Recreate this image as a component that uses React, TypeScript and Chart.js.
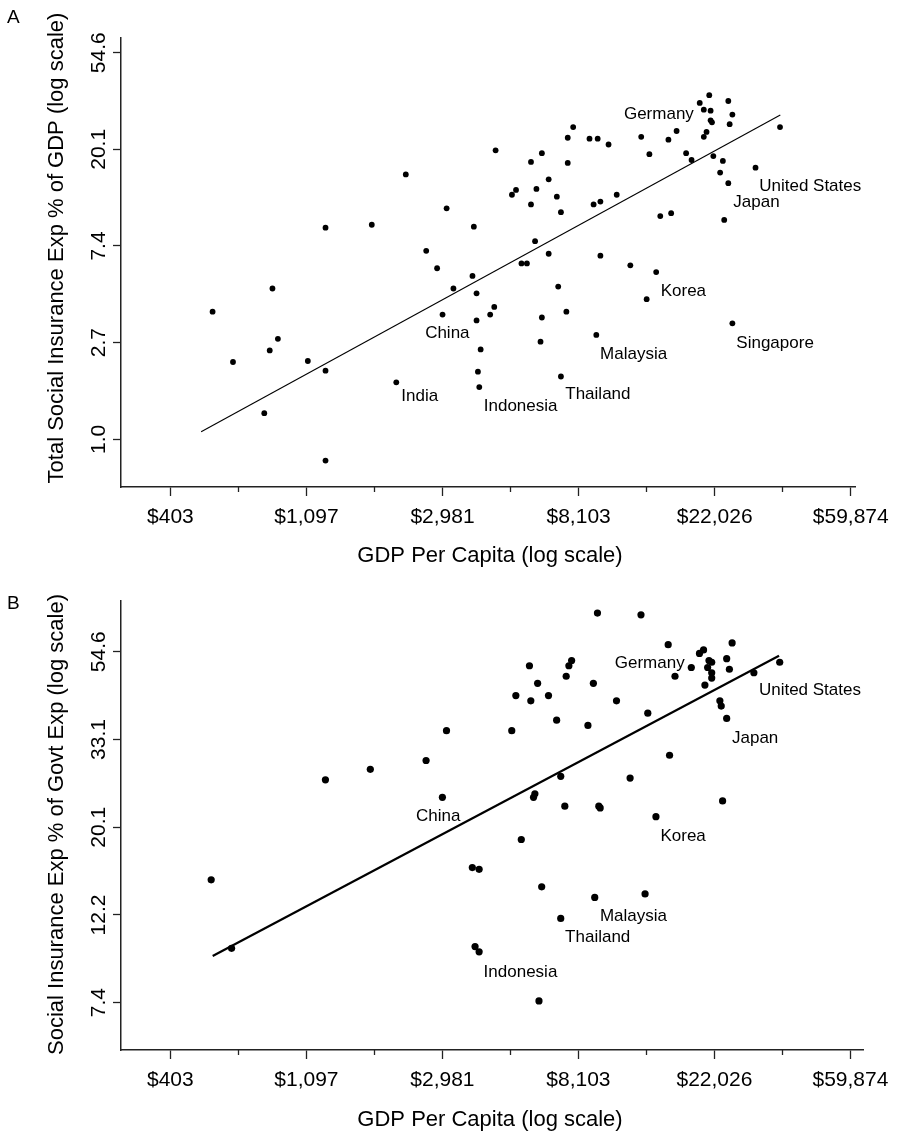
import React, { useEffect, useRef } from "react";
import { Chart, registerables } from "chart.js";

Chart.register(...registerables);

// Natural-log values: GDP per capita (x) against social insurance spending (y).
// Panel A: total social insurance expenditure, % of GDP.
const logGdpA = [
  6.31, 6.46, 6.69, 6.73, 6.75, 6.79, 7.01, 7.14, 7.14, 7.14,
  7.48, 7.66, 7.73, 7.88, 7.96, 8.0, 8.03, 8.08, 8.23, 8.22,
  8.25, 8.25, 8.26, 8.27, 8.28, 8.35, 8.38, 8.39, 8.51, 8.54,
  8.58, 8.62, 8.65, 8.65, 8.68, 8.69, 8.73, 8.72, 8.73, 8.78,
  8.78, 8.85, 8.84, 8.87, 8.87, 8.91, 8.92, 8.92, 8.96, 9.08,
  9.11, 9.13, 9.14, 9.16, 9.16, 9.22, 9.28, 9.38, 9.46, 9.5,
  9.52, 9.57, 9.6, 9.66, 9.68, 9.72, 9.79, 9.83, 9.89, 9.92,
  9.92, 9.94, 9.96, 9.97, 9.97, 9.98, 9.99, 10.06, 10.04, 10.07,
  10.1, 10.1, 10.11, 10.13, 10.13, 10.3, 10.48,
];
const logShareGdpA = [
  1.32, 0.8, 0.27, 0.92, 1.56, 1.04, 0.81, 2.19, 0.71, -0.22,
  2.22, 0.59, 2.74, 1.95, 1.77, 1.29, 2.39, 1.56, 2.2, 1.69,
  1.51, 1.23, 0.7, 0.54, 0.93, 1.29, 1.37, 2.99, 2.53, 2.58,
  1.82, 1.82, 2.87, 2.43, 2.05, 2.59, 1.26, 1.01, 2.96, 1.92,
  2.69, 1.58, 2.51, 0.65, 2.35, 1.32, 3.12, 2.86, 3.23, 3.11,
  2.43, 1.08, 3.11, 2.46, 1.9, 3.05, 2.53, 1.8, 3.13, 1.45,
  2.95, 1.73, 2.31, 3.1, 2.34, 3.19, 2.96, 2.89, 3.48, 3.13,
  3.41, 3.18, 3.56, 3.4, 3.3, 3.28, 2.93, 2.88, 2.76, 2.27,
  2.65, 3.5, 3.26, 3.36, 1.2, 2.81, 3.23,
];

// Panel B: social insurance expenditure, % of government expenditure.
const logGdpB = [
  6.3, 6.45, 7.14, 7.47, 7.88, 8.0, 8.03, 8.22, 8.27, 8.24,
  8.27, 8.51, 8.54, 8.58, 8.64, 8.65, 8.67, 8.68, 8.7, 8.73,
  8.71, 8.78, 8.84, 8.87, 8.87, 8.9, 8.91, 8.93, 8.95, 9.07,
  9.11, 9.12, 9.14, 9.15, 9.16, 9.28, 9.38, 9.46, 9.49, 9.51,
  9.57, 9.66, 9.67, 9.71, 9.83, 9.89, 9.92, 9.93, 9.95, 9.96,
  9.98, 9.98, 9.98, 10.04, 10.05, 10.09, 10.06, 10.09, 10.11, 10.13,
  10.29, 10.48,
];
const logShareGovB = [
  2.7, 2.31, 3.27, 3.33, 3.38, 3.17, 3.55, 2.77, 2.76, 2.32,
  2.29, 3.55, 3.75, 2.93, 3.92, 3.72, 3.17, 3.19, 3.82, 2.66,
  2.01, 3.75, 3.61, 3.29, 2.48, 3.12, 3.86, 3.92, 3.95, 3.58,
  3.82, 2.6, 4.22, 3.12, 3.11, 3.72, 3.28, 4.21, 2.62, 3.65,
  3.06, 4.04, 3.41, 3.86, 3.91, 3.99, 4.01, 3.81, 3.91, 3.95,
  3.94, 3.88, 3.85, 3.72, 3.69, 3.62, 3.15, 3.96, 3.9, 4.05,
  3.88, 3.94,
];

// Axis ticks (natural-log units; labels show exp(value)).
const gdpTicks = [6, 7, 8, 9, 10, 11];
const gdpMinorTicks = [6.5, 7.5, 8.5, 9.5, 10.5];
const shareGdpTicks = [0, 1, 2, 3, 4];
const shareGovTicks = [2, 2.5, 3, 3.5, 4];

// Fitted regression lines (log-log).
const fitA = { intercept: -4.715, slope: 0.77, from: 6.226, to: 10.482 };
const fitB = { intercept: -0.328, slope: 0.411, from: 6.311, to: 10.475 };

// Country annotations, anchored in data units (left edge / vertical middle of text).
const countryLabelsA = [
  { name: "Germany", x: 9.333, y: 3.366 },
  { name: "United States", x: 10.327, y: 2.621 },
  { name: "Japan", x: 10.137, y: 2.455 },
  { name: "Korea", x: 9.603, y: 1.534 },
  { name: "Singapore", x: 10.159, y: 0.996 },
  { name: "Malaysia", x: 9.158, y: 0.883 },
  { name: "Thailand", x: 8.902, y: 0.469 },
  { name: "Indonesia", x: 8.303, y: 0.345 },
  { name: "India", x: 7.697, y: 0.448 },
  { name: "China", x: 7.872, y: 1.1 },
];
const countryLabelsB = [
  { name: "Germany", x: 9.267, y: 3.936 },
  { name: "United States", x: 10.327, y: 3.782 },
  { name: "Japan", x: 10.129, y: 3.508 },
  { name: "Korea", x: 9.603, y: 2.95 },
  { name: "Malaysia", x: 9.158, y: 2.494 },
  { name: "Thailand", x: 8.902, y: 2.374 },
  { name: "Indonesia", x: 8.303, y: 2.175 },
  { name: "China", x: 7.806, y: 3.064 },
];

const FONT = "'Liberation Sans', Arial, Helvetica, sans-serif";
const AXIS_COLOR = "#222";

type Label = { name: string; x: number; y: number };

type PanelSpec = {
  letter: string;
  letterBaseline: number;
  width: number;
  height: number;
  top: number;
  padTop: number;
  padRight: number;
  xAxisHeight: number;
  xMin: number;
  xMax: number;
  yMin: number;
  yMax: number;
  xs: number[];
  ys: number[];
  yTicks: number[];
  fit: { intercept: number; slope: number; from: number; to: number };
  fitWidth: number;
  pointRadius: number;
  labels: Label[];
  yTitle: string;
  yTitleCenter: number;
  xTitleBaseline: number;
};

const panels: PanelSpec[] = [
  {
    letter: "A",
    letterBaseline: 23,
    width: 898,
    height: 580,
    top: 0,
    padTop: 38,
    padRight: 38,
    xAxisHeight: 93,
    xMin: 5.637,
    xMax: 11.035,
    yMin: -0.4935,
    yMax: 4.152,
    xs: logGdpA,
    ys: logShareGdpA,
    yTicks: shareGdpTicks,
    fit: fitA,
    fitWidth: 1.1,
    pointRadius: 2.9,
    labels: countryLabelsA,
    yTitle: "Total Social Insurance Exp % of GDP (log scale)",
    yTitleCenter: 248,
    xTitleBaseline: 562,
  },
  {
    letter: "B",
    letterBaseline: 43,
    width: 898,
    height: 567,
    top: 566,
    padTop: 34.7,
    padRight: 30,
    xAxisHeight: 83,
    xMin: 5.637,
    xMax: 11.094,
    yMin: 1.7305,
    yMax: 4.2906,
    xs: logGdpB,
    ys: logShareGovB,
    yTicks: shareGovTicks,
    fit: fitB,
    fitWidth: 2.2,
    pointRadius: 3.6,
    labels: countryLabelsB,
    yTitle: "Social Insurance Exp % of Govt Exp (log scale)",
    yTitleCenter: 258.5,
    xTitleBaseline: 560,
  },
];

function setTicks(values: number[]) {
  return (scale: any) => {
    scale.ticks = values.map((v) => ({ value: v }));
  };
}

function Panel({ spec }: { spec: PanelSpec }) {
  const ref = useRef<HTMLCanvasElement | null>(null);

  useEffect(() => {
    if (!ref.current) return;
    const points = spec.xs.map((x, i) => ({ x, y: spec.ys[i] }));
    const fitLine = [spec.fit.from, spec.fit.to].map((x) => ({
      x,
      y: spec.fit.intercept + spec.fit.slope * x,
    }));

    const textPlugin = {
      id: "panelText",
      afterDraw(chart: any) {
        const ctx = chart.ctx as CanvasRenderingContext2D;
        const xs = chart.scales.x;
        const ys = chart.scales.y;
        ctx.save();
        ctx.fillStyle = "#000";

        // Panel letter
        ctx.font = `19px ${FONT}`;
        ctx.textAlign = "left";
        ctx.textBaseline = "alphabetic";
        ctx.fillText(spec.letter, 7, spec.letterBaseline);

        // X axis title
        ctx.font = `22px ${FONT}`;
        ctx.textAlign = "center";
        ctx.fillText("GDP Per Capita (log scale)", 490, spec.xTitleBaseline);

        // Y axis title (rotated)
        ctx.save();
        ctx.translate(63, spec.yTitleCenter);
        ctx.rotate(-Math.PI / 2);
        ctx.textAlign = "center";
        ctx.textBaseline = "alphabetic";
        ctx.fillText(spec.yTitle, 0, 0);
        ctx.restore();

        // Country labels
        ctx.font = `17px ${FONT}`;
        ctx.textAlign = "left";
        ctx.textBaseline = "middle";
        for (const l of spec.labels) {
          ctx.fillText(l.name, xs.getPixelForValue(l.x), ys.getPixelForValue(l.y));
        }
        ctx.restore();
      },
    };

    const chart = new Chart(ref.current, {
      type: "scatter",
      data: {
        datasets: [
          {
            data: points,
            backgroundColor: "#000",
            borderWidth: 0,
            pointRadius: spec.pointRadius,
            pointHoverRadius: spec.pointRadius,
          },
          {
            data: fitLine,
            showLine: true,
            borderColor: "#000",
            borderWidth: spec.fitWidth,
            pointRadius: 0,
            pointHoverRadius: 0,
          },
        ],
      },
      options: {
        responsive: false,
        maintainAspectRatio: false,
        animation: false,
        events: [],
        layout: {
          autoPadding: false,
          padding: { left: 0, top: spec.padTop, right: spec.padRight, bottom: 0 },
        },
        plugins: {
          legend: { display: false },
          tooltip: { enabled: false },
        },
        scales: {
          x: {
            type: "linear",
            position: "bottom",
            weight: 1,
            min: spec.xMin,
            max: spec.xMax,
            afterBuildTicks: setTicks(gdpTicks),
            afterFit: (s: any) => {
              s.height = spec.xAxisHeight;
            },
            border: { display: true, color: AXIS_COLOR, width: 1.5 },
            grid: {
              drawOnChartArea: false,
              drawTicks: true,
              tickLength: 9,
              tickColor: AXIS_COLOR,
              tickWidth: 1.3,
            },
            ticks: {
              autoSkip: false,
              maxRotation: 0,
              minRotation: 0,
              padding: 9,
              color: "#000",
              font: { family: FONT, size: 21 },
              callback: (v: any) =>
                "$" + Math.round(Math.exp(Number(v))).toLocaleString("en-US"),
            },
          },
          xMinor: {
            type: "linear",
            position: "bottom",
            weight: 0,
            min: spec.xMin,
            max: spec.xMax,
            afterBuildTicks: setTicks(gdpMinorTicks),
            afterFit: (s: any) => {
              s.height = 0;
            },
            border: { display: false },
            grid: {
              drawOnChartArea: false,
              drawTicks: true,
              tickLength: 5,
              tickColor: AXIS_COLOR,
              tickWidth: 1.3,
            },
            ticks: { display: false },
          },
          y: {
            type: "linear",
            position: "left",
            min: spec.yMin,
            max: spec.yMax,
            afterBuildTicks: setTicks(spec.yTicks),
            afterFit: (s: any) => {
              s.width = 121;
            },
            border: { display: true, color: AXIS_COLOR, width: 1.5 },
            grid: {
              drawOnChartArea: false,
              drawTicks: true,
              tickLength: 8,
              tickColor: AXIS_COLOR,
              tickWidth: 1.3,
            },
            ticks: {
              autoSkip: false,
              minRotation: 90,
              maxRotation: 90,
              crossAlign: "center",
              padding: -6.5,
              color: "#000",
              font: { family: FONT, size: 21 },
              callback: (v: any) => Math.exp(Number(v)).toFixed(1),
            },
          },
        },
      },
      plugins: [textPlugin],
    } as any);

    return () => chart.destroy();
  }, [spec]);

  return (
    <canvas
      ref={ref}
      width={spec.width}
      height={spec.height}
      style={{
        position: "absolute",
        left: 0,
        top: spec.top,
        width: spec.width,
        height: spec.height,
        display: "block",
      }}
    />
  );
}

export default function App() {
  return (
    <div
      style={{
        position: "absolute",
        left: 0,
        top: 0,
        width: 898,
        height: 1133,
        background: "#fff",
        overflow: "hidden",
      }}
    >
      {panels.map((p) => (
        <Panel key={p.letter} spec={p} />
      ))}
    </div>
  );
}
